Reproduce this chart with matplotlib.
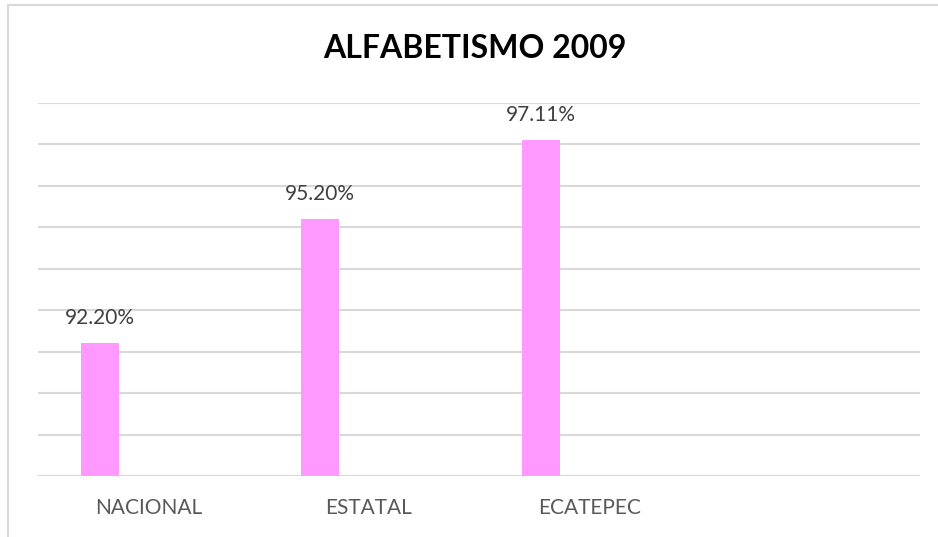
import matplotlib.pyplot as plt
from matplotlib.lines import Line2D
import numpy as np

# data
categories = ["NACIONAL", "ESTATAL", "ECATEPEC"]
values = [92.20, 95.20, 97.11]
title = "ALFABETISMO 2009"

plt.rcParams['font.family'] = ['Lato', 'DejaVu Sans']

W, H = 938, 537
fig = plt.figure(figsize=(W / 100, H / 100), dpi=100)
ax = fig.add_axes([38 / W, 1 - 476 / H, (920 - 38) / W, (476 - 103) / H])

x = np.arange(len(categories))
bars = ax.bar(x - 0.22, values, width=0.172, color="#ff99ff", zorder=3)

for b, v in zip(bars, values):
    ax.annotate(f"{v:.2f}%", (b.get_x() + b.get_width() / 2, v),
                xytext=(0, 18), textcoords="offset points",
                ha="center", va="center", fontsize=15, color="#404040")

ax.set_xlim(-0.5, 3.5)
ax.set_ylim(89, 98)
ax.set_yticks(np.arange(89, 99, 1))
ax.set_yticklabels([])
ax.set_xticks(x)
ax.set_xticklabels(categories, fontsize=15, color="#595959")
ax.tick_params(length=0)
ax.tick_params(axis="x", pad=16)
ax.grid(axis="y", color="#d9d9d9", linewidth=1.5, zorder=0)
for s in ax.spines.values():
    s.set_visible(False)

fig.text(475 / W, 1 - 48.5 / H, title, ha="center", va="center",
         fontsize=23, fontweight="bold", color="black")

# outer chart border (left and top visible)
fig.add_artist(Line2D([7.5 / W, 7.5 / W], [0, 1 - 4.5 / H], color="#d9d9d9", lw=1.5))
fig.add_artist(Line2D([7.5 / W, 1], [1 - 4.5 / H, 1 - 4.5 / H], color="#d9d9d9", lw=1.5))

fig.savefig("out.png", dpi=100)
